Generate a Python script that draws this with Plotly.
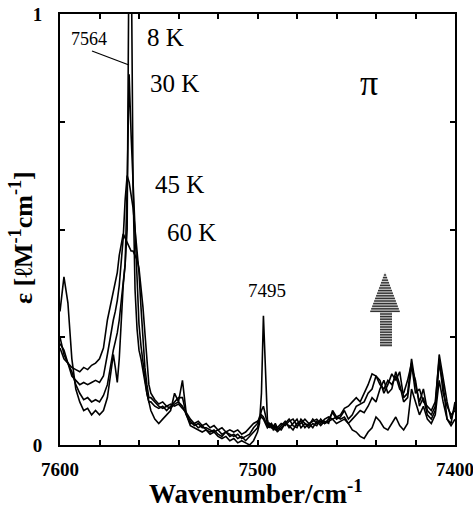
import plotly.graph_objects as go

# ---------------- data ----------------
wavenumber = (list(range(7600, 7573, -2)) + list(range(7573, 7554, -1)) +
              list(range(7554, 7499, -2)) + list(range(7499, 7490, -1)) +
              list(range(7490, 7399, -2)))

eps_8K = (
    [0.31, 0.39, 0.33, 0.2, 0.13, 0.1, 0.08, 0.085, 0.07, 0.08, 0.07, 0.08, 0.11, 0.17] +
    [0.21, 0.18, 0.145, 0.2, 0.29, 0.37, 0.42, 0.5, 1.2, 1.2, 0.6, 0.36, 0.27, 0.22, 0.2, 0.17, 0.14, 0.12, 0.1] +
    [0.08, 0.06, 0.05, 0.06, 0.07, 0.08, 0.12, 0.1, 0.15, 0.07, 0.045, 0.04, 0.035, 0.03,
     0.035, 0.025, 0.03, 0.02, 0.015, 0.02, 0.01, 0.015, 0.005, 0.01, 0.005, 0.0, 0.01, 0.03] +
    [0.05, 0.12, 0.3, 0.16, 0.06, 0.04, 0.045, 0.035, 0.04] +
    [0.04, 0.035, 0.05, 0.06, 0.045, 0.04, 0.06, 0.05, 0.04, 0.05, 0.045, 0.06, 0.05, 0.055, 0.06, 0.05, 0.055, 0.06] +
    [0.05, 0.035, 0.03, 0.02, 0.015, 0.03, 0.04, 0.065, 0.055, 0.04, 0.035, 0.05, 0.065, 0.045,
     0.035, 0.05, 0.13, 0.1, 0.07, 0.09, 0.06, 0.05, 0.07, 0.15, 0.1, 0.06, 0.045, 0.06]
)

eps_30K = (
    [0.25, 0.21, 0.19, 0.17, 0.14, 0.12, 0.105, 0.11, 0.1, 0.105, 0.1, 0.115, 0.14, 0.2] +
    [0.22, 0.24, 0.26, 0.29, 0.33, 0.37, 0.42, 0.6, 0.86, 0.72, 0.6, 0.48, 0.36, 0.28, 0.23, 0.19, 0.15, 0.12, 0.1] +
    [0.1, 0.09, 0.085, 0.09, 0.08, 0.09, 0.1, 0.11, 0.11, 0.07, 0.05, 0.05, 0.04, 0.045,
     0.035, 0.03, 0.035, 0.025, 0.02, 0.03, 0.02, 0.025, 0.015, 0.02, 0.01, 0.02, 0.03, 0.04] +
    [0.06, 0.08, 0.09, 0.07, 0.05, 0.04, 0.05, 0.04, 0.045] +
    [0.03, 0.04, 0.05, 0.045, 0.035, 0.05, 0.055, 0.04, 0.05, 0.04, 0.055, 0.045, 0.055, 0.05, 0.08, 0.065, 0.06, 0.065] +
    [0.05, 0.06, 0.07, 0.08, 0.075, 0.09, 0.11, 0.1, 0.13, 0.15, 0.12, 0.13, 0.17, 0.14,
     0.1, 0.11, 0.18, 0.15, 0.09, 0.11, 0.07, 0.06, 0.08, 0.19, 0.14, 0.06, 0.05, 0.1]
)

eps_45K = (
    [0.235, 0.22, 0.19, 0.16, 0.15, 0.14, 0.145, 0.14, 0.145, 0.15, 0.145, 0.16, 0.21, 0.27] +
    [0.29, 0.31, 0.335, 0.37, 0.42, 0.48, 0.57, 0.625, 0.61, 0.58, 0.55, 0.5, 0.45, 0.4, 0.32, 0.25, 0.18, 0.14, 0.11] +
    [0.11, 0.1, 0.09, 0.085, 0.09, 0.085, 0.095, 0.1, 0.09, 0.07, 0.055, 0.045, 0.05, 0.04,
     0.04, 0.035, 0.03, 0.035, 0.025, 0.03, 0.025, 0.02, 0.025, 0.015, 0.02, 0.025, 0.04, 0.05] +
    [0.065, 0.07, 0.065, 0.055, 0.045, 0.05, 0.04, 0.045, 0.035] +
    [0.035, 0.045, 0.055, 0.04, 0.05, 0.06, 0.04, 0.05, 0.045, 0.06, 0.05, 0.055, 0.05, 0.06, 0.075, 0.06, 0.065, 0.08] +
    [0.06, 0.07, 0.09, 0.095, 0.1, 0.12, 0.13, 0.16, 0.15, 0.12, 0.14, 0.165, 0.15, 0.17,
     0.11, 0.12, 0.2, 0.14, 0.1, 0.13, 0.08, 0.07, 0.09, 0.21, 0.15, 0.1, 0.06, 0.09]
)

eps_60K = (
    [0.225, 0.2, 0.19, 0.18, 0.175, 0.17, 0.18, 0.175, 0.185, 0.19, 0.2, 0.225, 0.29, 0.335] +
    [0.355, 0.375, 0.4, 0.44, 0.47, 0.49, 0.48, 0.47, 0.46, 0.45, 0.45, 0.44, 0.43, 0.41, 0.37, 0.32, 0.26, 0.19, 0.14] +
    [0.12, 0.105, 0.095, 0.1, 0.09, 0.095, 0.09, 0.095, 0.085, 0.075, 0.06, 0.05, 0.055, 0.045,
     0.05, 0.04, 0.045, 0.035, 0.04, 0.03, 0.035, 0.03, 0.035, 0.025, 0.03, 0.04, 0.05, 0.055] +
    [0.06, 0.065, 0.06, 0.05, 0.04, 0.045, 0.05, 0.04, 0.05] +
    [0.04, 0.05, 0.045, 0.055, 0.06, 0.045, 0.05, 0.06, 0.05, 0.055, 0.06, 0.05, 0.06, 0.065, 0.06, 0.065, 0.07, 0.085] +
    [0.09, 0.1, 0.11, 0.1, 0.12, 0.14, 0.165, 0.16, 0.14, 0.13, 0.15, 0.14, 0.16, 0.13,
     0.12, 0.15, 0.19, 0.12, 0.13, 0.1, 0.09, 0.08, 0.1, 0.2, 0.12, 0.09, 0.07, 0.08]
)

temperatures = ["8 K", "30 K", "45 K", "60 K"]
series = [eps_8K, eps_30K, eps_45K, eps_60K]
for s in series:
    assert len(s) == len(wavenumber), (len(s), len(wavenumber))

x_tick_values = [7600, 7500, 7400]
y_tick_values = [0, 1]
y_tick_text = ["0", "1"]

# ---------------- figure ----------------
W, H = 473, 508
PL, PR, PT, PB = 60, 455, 14, 445  # plot area in pixels


def fx(p):
    return (p - PL) / (PR - PL)


def fy(p):
    return (PB - p) / (PB - PT)


SERIF = "Liberation Serif, Times New Roman, serif"

fig = go.Figure()
for name, ys in zip(temperatures, series):
    fig.add_trace(go.Scatter(x=wavenumber, y=ys, mode="lines", name=name,
                             line=dict(color="black", width=1.6), showlegend=False))

fig.update_layout(
    width=W, height=H,
    margin=dict(l=PL, r=W - PR, t=PT, b=H - PB, pad=0),
    paper_bgcolor="white", plot_bgcolor="white",
    font=dict(family=SERIF, size=16, color="black"),
    showlegend=False,
)

axis_common = dict(showline=True, linewidth=2, linecolor="black", mirror="ticks",
                   ticks="inside", ticklen=5, tickwidth=1.5, tickcolor="black",
                   showgrid=False, zeroline=False, automargin=False,
                   ticklabeloverflow="allow",
                   tickfont=dict(family=SERIF, size=19, weight="bold", color="black"))

fig.update_xaxes(range=[7600, 7400], tickvals=x_tick_values,
                 ticklabelstandoff=6,
                 minor=dict(dtick=20, ticks="inside", ticklen=5, tickwidth=1.5,
                            tickcolor="black", showgrid=False),
                 **axis_common)
fig.update_yaxes(range=[0, 1], tickvals=y_tick_values, ticktext=y_tick_text,
                 ticklabelstandoff=12,
                 minor=dict(dtick=0.25, ticks="inside", ticklen=5, tickwidth=1.5,
                            tickcolor="black", showgrid=False),
                 **axis_common)

annotations = []


def label(text, xp, yp, size, xanchor="center", bold=False, angle=0):
    annotations.append(dict(text=text, x=fx(xp), y=fy(yp), xref="paper", yref="paper",
                            xanchor=xanchor, yanchor="middle", showarrow=False,
                            textangle=angle,
                            font=dict(family=SERIF, size=size, color="black",
                                      weight="bold" if bold else "normal")))


label("7564", 89, 39, 18)
label("8 K", 145, 37, 25, xanchor="left")
label("30 K", 148, 84, 25, xanchor="left")
label("45 K", 153, 184, 25, xanchor="left")
label("60 K", 165, 232, 25, xanchor="left")
label("π", 369, 83, 36)
label("7495", 267, 290, 19)
label("Wavenumber/cm<sup>-1</sup>", 256, 492, 27, bold=True)
label("ε [ℓM<sup>-1</sup>cm<sup>-1</sup>]", 21, 238, 26, bold=True, angle=-90)
fig.update_layout(annotations=annotations)

shapes = []
# leader line for 7564
shapes.append(dict(type="line", xref="paper", yref="paper",
                   x0=fx(92), y0=fy(51), x1=fx(129), y1=fy(65),
                   line=dict(color="black", width=1.2)))

# striped arrow
ax, atop, abase, ahw = 385, 272, 312, 15
sx0, sx1, sbot = 380, 392, 347
arrow_path = (f"M {fx(ax)},{fy(atop)} L {fx(ax + ahw)},{fy(abase)} L {fx(sx1)},{fy(abase)} "
              f"L {fx(sx1)},{fy(sbot)} L {fx(sx0)},{fy(sbot)} L {fx(sx0)},{fy(abase)} "
              f"L {fx(ax - ahw)},{fy(abase)} Z")
shapes.append(dict(type="path", xref="paper", yref="paper", path=arrow_path,
                   fillcolor="#c8c8c8", line=dict(width=0)))
row = atop + 3
while row < sbot:
    if row <= abase:
        hw = ahw * (row - atop) / (abase - atop)
        xa, xb = ax - hw, ax + hw
    else:
        xa, xb = sx0, sx1
    shapes.append(dict(type="line", xref="paper", yref="paper",
                       x0=fx(xa), y0=fy(row), x1=fx(xb), y1=fy(row),
                       line=dict(color="#333333", width=1.4)))
    row += 2.6

fig.update_layout(shapes=shapes)

fig.write_html("out.html", config={"displayModeBar": False},
               post_script="document.body.style.margin='0';document.body.style.overflow='hidden';")
